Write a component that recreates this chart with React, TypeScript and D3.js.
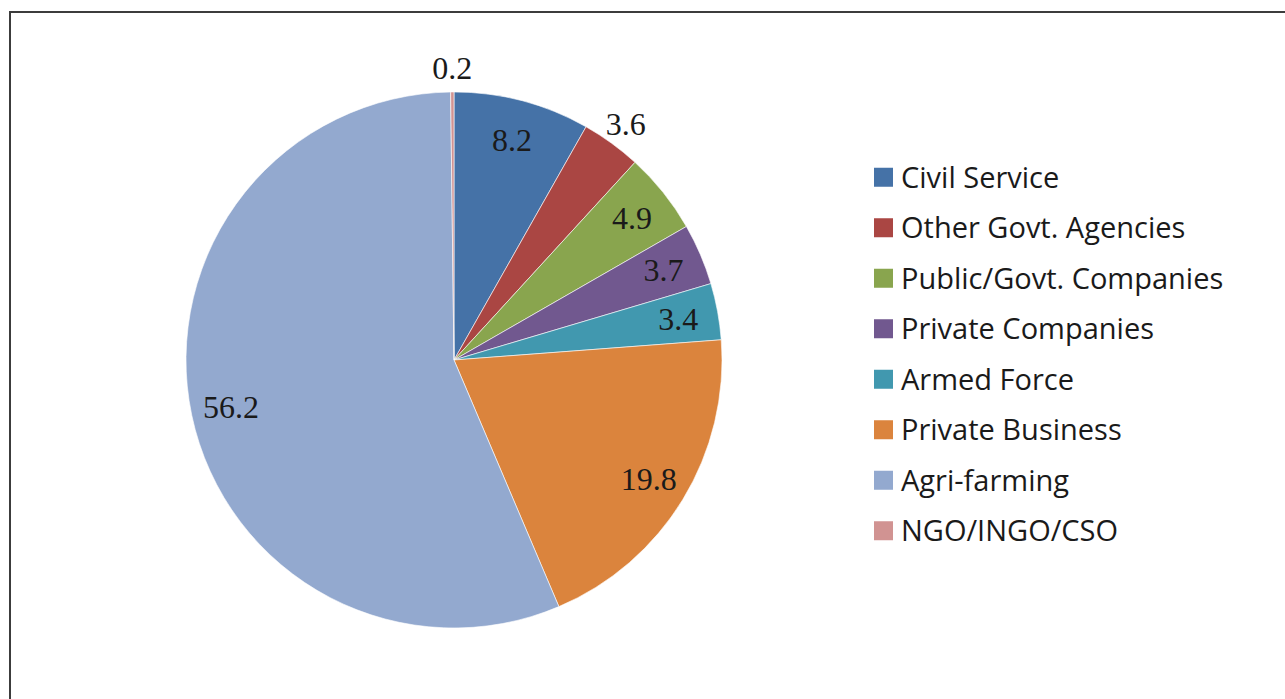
import React from "react";
import * as d3 from "d3";

const categories = [
  "Civil Service",
  "Other Govt. Agencies",
  "Public/Govt. Companies",
  "Private Companies",
  "Armed Force",
  "Private Business",
  "Agri-farming",
  "NGO/INGO/CSO",
];
const values = [8.2, 3.6, 4.9, 3.7, 3.4, 19.8, 56.2, 0.2];
const colors = ["#4572A7", "#AA4643", "#89A54E", "#71588F", "#4198AF", "#DB843D", "#93A9CF", "#D19392"];
const outsideLabel = [false, true, false, false, false, false, false, true];

export default function App() {
  const W = 1285, H = 699;
  const cx = 454, cy = 360, r = 268;
  const data = categories.map((c, i) => ({ c, v: values[i], i }));
  const pie = d3.pie<any>().value((d: any) => d.v).sort(null);
  const arcs = pie(data);
  const arc = d3.arc<any>().innerRadius(0).outerRadius(r);
  const inArc = d3.arc<any>().innerRadius(228).outerRadius(228);
  const outArc = d3.arc<any>().innerRadius(292).outerRadius(292);
  const color = d3.scaleOrdinal<string, string>().domain(categories).range(colors);
  const legY = d3.scaleBand().domain(categories).range([152, 556]);

  return (
    <div style={{ position: "absolute", left: 0, top: 0 }}>
      <svg width={W} height={H} style={{ display: "block" }}>
        <rect x={0} y={0} width={W} height={H} fill="#fff" />
        <rect x={10} y={12} width={W + 20} height={H + 20} fill="none" stroke="#3c3c3c" strokeWidth={2} />
        <g transform={`translate(${cx},${cy})`}>
          {arcs.map((a, i) => (
            <path key={i} d={arc(a) as string} fill={color(a.data.c)} stroke="#fff" strokeWidth={0.6} />
          ))}
          {arcs.map((a, i) => {
            const [x, y] = (outsideLabel[i] ? outArc : inArc).centroid(a);
            return (
              <text key={"l" + i} x={x} y={y} dy="0.35em" textAnchor="middle"
                fontFamily="'Liberation Serif', 'Times New Roman', serif" fontSize={32} fill="#1a1a1a">
                {a.data.v.toFixed(1)}
              </text>
            );
          })}
        </g>
        <g>
          {categories.map((c) => {
            const y = (legY(c) as number) + legY.bandwidth() / 2;
            return (
              <g key={c}>
                <rect x={874} y={y - 9.5} width={19} height={19} fill={color(c)} />
                <text x={901} y={y} dy="0.36em" fontFamily="'Open Sans', sans-serif" fontSize={29} fill="#1a1a1a">
                  {c}
                </text>
              </g>
            );
          })}
        </g>
      </svg>
    </div>
  );
}
